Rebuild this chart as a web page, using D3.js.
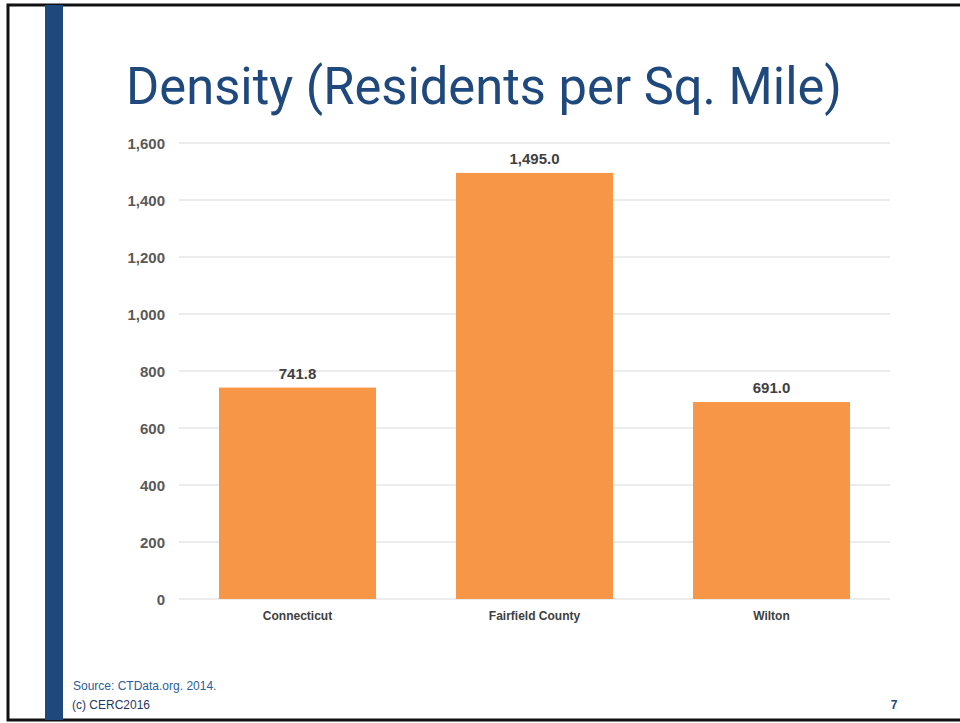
<!DOCTYPE html>
<html>
<head>
<meta charset="utf-8">
<script src="https://cdn.jsdelivr.net/npm/d3@7"></script>
<style>
  html, body { margin: 0; padding: 0; background: #fff; }
  svg { display: block; }
</style>
</head>
<body>
<svg id="slide" width="960" height="723"></svg>
<script>
// Population density by area
const categories = ["Connecticut", "Fairfield County", "Wilton"];
const densities = [741.8, 1495.0, 691.0];
const yTicks = [0, 200, 400, 600, 800, 1000, 1200, 1400, 1600];

const svg = d3.select("#slide");
const font = "'Liberation Sans', Arial, sans-serif";

// Slide frame and accent bar
svg.append("rect").attr("x", 8).attr("y", 5).attr("width", 960).attr("height", 715)
  .attr("fill", "none").attr("stroke", "#111").attr("stroke-width", 3);
svg.append("rect").attr("x", 45).attr("y", 5).attr("width", 18).attr("height", 715)
  .attr("fill", "#1f497d");

// Title
svg.append("text").attr("x", 126).attr("y", 104)
  .attr("font-family", "Roboto, sans-serif").attr("font-size", 52)
  .attr("textLength", 716).attr("lengthAdjust", "spacingAndGlyphs")
  .attr("fill", "#1f497d").text("Density (Residents per Sq. Mile)");

// Scales
const x = d3.scaleBand().domain(categories).range([179, 890])
  .paddingInner(0.3376).paddingOuter(0.1688);
const y = d3.scaleLinear().domain([0, 1600]).range([599, 143]);

// Gridlines
svg.append("g").selectAll("line").data(yTicks).join("line")
  .attr("x1", 179).attr("x2", 890)
  .attr("y1", d => y(d)).attr("y2", d => y(d))
  .attr("stroke", "#d9d9d9").attr("stroke-width", 1);

// Y axis labels
const yAxis = d3.axisLeft(y).tickValues(yTicks).tickFormat(d3.format(",")).tickSize(0).tickPadding(0);
const gy = svg.append("g").attr("transform", "translate(165,0)").call(yAxis);
gy.select(".domain").remove();
gy.selectAll("text").attr("font-family", font).attr("font-size", 15).attr("font-weight", "bold")
  .attr("fill", "#595959").attr("dy", "0.35em");

// Bars
svg.append("g").selectAll("rect").data(densities).join("rect")
  .attr("x", (d, i) => x(categories[i]))
  .attr("y", d => y(d))
  .attr("width", x.bandwidth())
  .attr("height", d => y(0) - y(d))
  .attr("fill", "#f79646");

// Value labels
svg.append("g").selectAll("text").data(densities).join("text")
  .attr("x", (d, i) => x(categories[i]) + x.bandwidth() / 2)
  .attr("y", d => y(d) - 9)
  .attr("text-anchor", "middle")
  .attr("font-family", font).attr("font-size", 15).attr("font-weight", "bold")
  .attr("fill", "#404040")
  .text(d => d3.format(",.1f")(d));

// X axis labels
const xAxis = d3.axisBottom(x).tickSize(0).tickPadding(0);
const gx = svg.append("g").attr("transform", "translate(0,599)").call(xAxis);
gx.select(".domain").remove();
gx.selectAll("text").attr("font-family", font).attr("font-size", 12).attr("font-weight", "bold")
  .attr("fill", "#404040").attr("y", 21).attr("dy", 0);

// Footer
svg.append("text").attr("x", 73).attr("y", 690)
  .attr("font-family", font).attr("font-size", 12).attr("fill", "#2e5c9a")
  .text("Source: CTData.org. 2014.");
svg.append("text").attr("x", 72).attr("y", 709)
  .attr("font-family", font).attr("font-size", 12).attr("fill", "#1f3864")
  .text("(c) CERC2016");
svg.append("text").attr("x", 894).attr("y", 709).attr("text-anchor", "middle")
  .attr("font-family", font).attr("font-size", 12).attr("font-weight", "bold").attr("fill", "#1f497d")
  .text("7");
</script>
</body>
</html>
